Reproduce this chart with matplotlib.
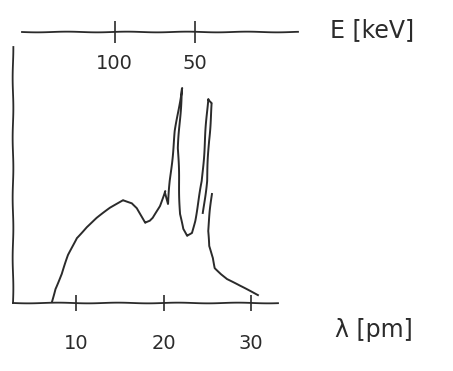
import matplotlib
matplotlib.use("Agg")
import matplotlib.pyplot as plt

# hand-drawn look: a little wobble on every line
plt.rcParams['path.sketch'] = (0.35, 60, 1.0)
plt.rcParams['font.family'] = ['DejaVu Sans']

INK = '#2b2b2b'

# spectrum (wavelength in pm, intensity in arbitrary units)
lam_main = [7.20, 7.6, 8.35, 9.1, 10.06, 11.2, 12.35, 13.87, 15.35, 16.38, 16.95,
            17.87, 18.44, 18.78, 19.58, 20.15, 20.50, 20.72, 21.30, 22.10, 21.64,
            21.87, 22.21, 22.67, 23.24, 23.58, 24.38, 24.72, 25.07, 25.52, 25.18,
            24.95, 24.50]
int_main = [0, 14, 29, 48, 65, 76, 85, 95, 103, 100, 95,
            80, 82, 85, 97, 112, 99, 122, 172, 215, 155,
            89, 74, 67, 70, 82, 122, 162, 204, 200, 162,
            122, 90]

lam_tail = [25.52, 25.30, 25.07, 25.18, 25.64, 25.87, 26.57, 27.24, 28.72, 30.78]
int_tail = [109, 92, 72, 57, 45, 35, 29, 24, 17, 8]

lam_ticks = [10, 20, 30]
lam_ticklabels = ['10', '20', '30']

# energy axis ticks (where they sit on the wavelength scale in the sketch)
E_tick_lam = [14.4, 23.6]
E_ticklabels = ['100', '50']

fig = plt.figure(figsize=(4.53, 3.71), dpi=100)

# main axes: left px 13..278, bottom at y=303, top at y=47
ax = fig.add_axes([13 / 453, 68 / 371, 265 / 453, 256 / 371])
ax.plot(lam_main, int_main, color=INK, lw=1.4)
ax.plot(lam_tail, int_tail, color=INK, lw=1.4)
ax.set_xlim(2.78, 33.07)
ax.set_ylim(0, 256)
for s in ['top', 'right']:
    ax.spines[s].set_visible(False)
for s in ['left', 'bottom']:
    ax.spines[s].set_color(INK)
    ax.spines[s].set_linewidth(1.3)
ax.set_yticks([])
ax.set_xticks(lam_ticks)
ax.set_xticklabels(lam_ticklabels, fontsize=14, color=INK)
ax.tick_params(axis='x', direction='inout', length=11, width=1.2, color=INK, pad=17)
ax.patch.set_alpha(0)

# separate energy axis drawn above the plot (y=32, px 22..298)
axt = fig.add_axes([22 / 453, (371 - 32) / 371, 276 / 453, 0.0001])
axt.set_xlim(3.81, 35.35)
axt.set_yticks([])
for s in ['top', 'right', 'left']:
    axt.spines[s].set_visible(False)
axt.spines['bottom'].set_color(INK)
axt.spines['bottom'].set_linewidth(1.3)
axt.set_xticks(E_tick_lam)
axt.set_xticklabels(E_ticklabels, fontsize=14, color=INK)
axt.tick_params(axis='x', direction='inout', length=16, width=1.2, color=INK, pad=8)
axt.patch.set_alpha(0)

fig.text(330 / 453, 1 - 30 / 371, 'E [keV]', fontsize=17, color=INK, va='center', ha='left')
fig.text(335 / 453, 1 - 330 / 371, 'λ [pm]', fontsize=17, color=INK, va='center', ha='left')

fig.savefig('out.png', dpi=100, facecolor='white')
